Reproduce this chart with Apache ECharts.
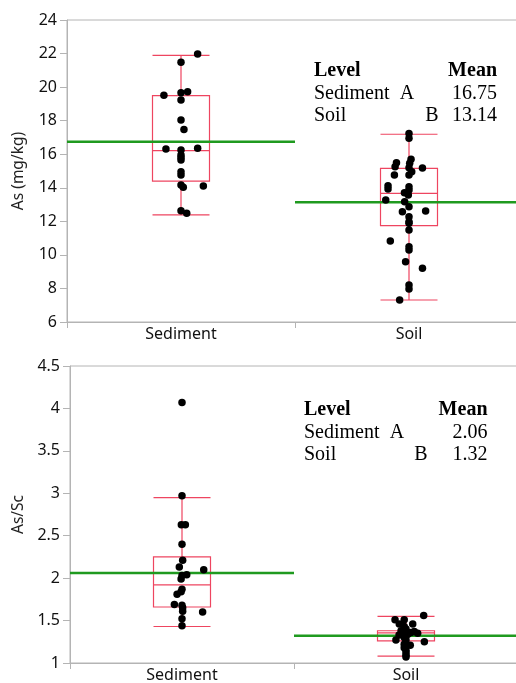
<!DOCTYPE html>
<html>
<head>
<meta charset="utf-8">
<script src="https://cdn.jsdelivr.net/npm/echarts@6/dist/echarts.min.js"></script>
<style>
  html, body { margin: 0; padding: 0; background: #fff; overflow: hidden; }
  #chart { width: 530px; height: 683px; }
</style>
</head>
<body>
<div id="chart"></div>
<script>
// categories
var levels = ['Sediment', 'Soil'];
var letters = ['A', 'B'];

// As (mg/kg): values and x jitter (fraction of category width)
var asSedVal = [21.97, 21.48, 19.51, 19.67, 19.73, 19.23, 18.04, 17.48, 16.31, 16.35, 16.25,
    15.95, 15.81, 15.65, 14.96, 14.76, 14.16, 14.03, 14.10, 12.63, 12.48];
var asSedJit = [0.073, 0, -0.075, 0, 0.029, 0, 0, 0.013, -0.066, 0.073, 0,
    0, 0, 0, 0, 0, 0, 0.01, 0.098, 0, 0.025];
var asSoilVal = [17.24, 16.95, 15.70, 15.49, 15.46, 15.26, 15.20, 15.18, 14.96, 14.76, 14.76,
    14.12, 13.93, 14.06, 13.87, 13.71, 13.57, 13.27, 13.17, 12.87, 12.57, 12.61, 12.28,
    11.98, 11.88, 11.48, 10.83, 10.49, 10.29, 9.59, 9.20, 8.21, 7.97, 7.31];
var asSoilJit = [0, 0, 0.009, -0.055, 0.003, -0.061, 0, 0.059, 0.012, -0.064, 0,
    -0.092, -0.092, 0, 0, -0.02, -0.003, -0.102, -0.019, 0, -0.029, 0.073, 0,
    0, 0, 0, -0.082, 0, 0, -0.015, 0.059, 0, 0, -0.041];
// box: [low whisker, q1, median, q3, high whisker]
var asBox = [[12.39, 14.40, 16.21, 19.49, 21.89], [7.31, 11.74, 13.67, 15.16, 17.19]];
var asMean = [16.75, 13.14];
var asTicks = [6, 24, 2];

// As/Sc
var rSedVal = [4.07, 2.97, 2.63, 2.63, 2.40, 2.21, 2.13, 2.10, 2.04, 2.03, 1.99,
    1.87, 1.84, 1.81, 1.69, 1.68, 1.65, 1.61, 1.60, 1.52, 1.44];
var rSedJit = [0, 0, -0.003, 0.015, 0, 0.003, -0.012, 0.097, 0.021, 0, -0.004,
    0, -0.004, -0.022, -0.034, 0, 0.003, 0.003, 0.092, 0, 0];
var rSoilVal = [1.56, 1.51, 1.51, 1.46, 1.46, 1.43, 1.40, 1.38, 1.37, 1.36, 1.35, 1.35, 1.34,
    1.33, 1.32, 1.30, 1.27, 1.27, 1.25, 1.22, 1.21, 1.18, 1.15, 1.12, 1.09, 1.07];
var rSoilJit = [0.079, -0.049, -0.008, -0.03, 0.03, -0.008, 0, -0.022, 0.037, 0.022, -0.015, 0.052, 0.008,
    -0.031, 0, -0.008, -0.045, 0, 0.082, -0.008, 0.019, -0.008, 0, 0, 0, 0];
var rBox = [[1.43, 1.66, 1.92, 2.25, 2.95], [1.08, 1.26, 1.355, 1.38, 1.55]];
var rMean = [2.06, 1.32];
var rTicks = [1, 4.5, 0.5];

var BOX = '#ee4560', GREEN = '#1f9a1f', AXIS = '#b4b4b4';
var SANS = '"Noto Sans", sans-serif', SERIF = '"Liberation Serif", serif';

var pts = function(cat, vals, jit) {
    return vals.map(function(v, i) { return [cat + 0.5 + jit[i], v]; });
};

var seriesFor = function(gi, box, mean, sets) {
    var out = [];
    out.push({
        type: 'boxplot', xAxisIndex: gi * 2, yAxisIndex: gi,
        data: box, boxWidth: [57, 57], z: 2,
        itemStyle: { color: 'rgba(0,0,0,0)', borderColor: BOX, borderWidth: 1.2 }
    });
    for (var c = 0; c < 2; c++) {
        out.push({
            type: 'line', xAxisIndex: gi * 2 + 1, yAxisIndex: gi, symbol: 'none', z: 3,
            data: [[c, mean[c]], [c + 1, mean[c]]],
            lineStyle: { color: GREEN, width: 2.5 }
        });
    }
    sets.forEach(function(s, c) {
        out.push({
            type: 'scatter', xAxisIndex: gi * 2 + 1, yAxisIndex: gi, z: 4,
            symbolSize: 7.5, itemStyle: { color: '#000', opacity: 1 },
            data: pts(c, s[0], s[1])
        });
    });
    return out;
};

var table = function(x, y, means, ax, bx, right) {
    var g = [];
    var f = '20px ' + SERIF, fb = 'bold 20px ' + SERIF;
    var t = function(txt, tx, ty, font, align) {
        g.push({ type: 'text', style: { text: txt, x: tx, y: ty, font: font, fill: '#000',
            textAlign: align, textVerticalAlign: 'middle' } });
    };
    t('Level', x, y, fb, 'left');
    t('Mean', right, y, fb, 'right');
    levels.forEach(function(l, i) {
        var yy = y + 22.5 * (i + 1);
        t(l, x, yy, f, 'left');
        t(letters[i], i === 0 ? ax : bx, yy, f, 'center');
        t(means[i].toFixed(2), right, yy, f, 'right');
    });
    return g;
};

var catAxis = function(gi) {
    return {
        type: 'category', gridIndex: gi, data: levels,
        axisLine: { lineStyle: { color: AXIS } },
        axisTick: { show: true, length: 6, lineStyle: { color: AXIS } },
        axisLabel: { color: '#111', fontFamily: SANS, fontSize: 16, margin: 4 }
    };
};
var valX = function(gi) {
    return { type: 'value', gridIndex: gi, min: 0, max: 2, show: false };
};
var valY = function(gi, t, name) {
    return {
        type: 'value', gridIndex: gi, min: t[0], max: t[1], interval: t[2],
        name: name, nameLocation: 'middle', nameGap: 40,
        nameTextStyle: { color: '#222', fontFamily: SANS, fontSize: 15.5 },
        axisLine: { show: true, lineStyle: { color: AXIS } },
        axisTick: { show: true, length: 7, lineStyle: { color: AXIS } },
        splitLine: { show: false },
        axisLabel: { color: '#111', fontFamily: SANS, fontSize: 16, margin: 10 }
    };
};

var chart = echarts.init(document.getElementById('chart'));
chart.setOption({
    animation: false,
    backgroundColor: '#fff',
    grid: [
        { left: 67, top: 20, width: 456, height: 302, show: true, borderColor: AXIS, borderWidth: 1 },
        { left: 70, top: 366, width: 448, height: 301, show: true, borderColor: AXIS, borderWidth: 1 }
    ],
    xAxis: [catAxis(0), valX(0), catAxis(1), valX(1)],
    yAxis: [valY(0, asTicks, 'As (mg/kg)'), valY(1, rTicks, 'As/Sc')],
    series: seriesFor(0, asBox, asMean, [[asSedVal, asSedJit], [asSoilVal, asSoilJit]])
        .concat(seriesFor(1, rBox, rMean, [[rSedVal, rSedJit], [rSoilVal, rSoilJit]])),
    graphic: table(314, 71, asMean, 407, 432, 497).concat(table(304, 410, rMean, 397, 421, 487.5))
});
</script>
</body>
</html>
